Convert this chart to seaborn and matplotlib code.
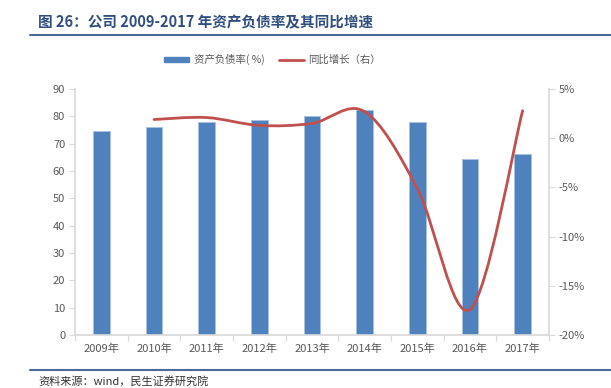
import numpy as np
import pandas as pd
import matplotlib
matplotlib.use('Agg')
import matplotlib.pyplot as plt
import seaborn as sns
from matplotlib.path import Path
from matplotlib.patches import PathPatch, Patch
from matplotlib.lines import Line2D
from matplotlib.ticker import FuncFormatter, FixedLocator

# 数据
years = ['2009年', '2010年', '2011年', '2012年', '2013年', '2014年', '2015年', '2016年', '2017年']
debt_ratio = [74.8, 76.2, 77.8, 78.8, 80.0, 82.2, 78.0, 64.3, 66.1]
growth_years = ['2010年', '2011年', '2012年', '2013年', '2014年', '2015年', '2016年', '2017年']
growth = [1.9, 2.1, 1.3, 1.5, 2.7, -5.1, -17.4, 2.8]

sns.set_theme(style='white')
plt.rcParams['font.family'] = ['Noto Sans CJK SC', 'DejaVu Sans']
plt.rcParams['axes.unicode_minus'] = False

bar_color = '#4F81BD'
line_color = '#C0504D'
text_gray = '#595959'
axis_gray = '#D9D9D9'
title_blue = '#2F4D7E'

fig = plt.figure(figsize=(6.11, 3.88), dpi=100)
ax = fig.add_axes([0.1227, 0.1366, 0.7758, 0.634])

df = pd.DataFrame({'year': years, 'ratio': debt_ratio})
sns.barplot(data=df, x='year', y='ratio', color=bar_color, width=0.32,
            edgecolor='#A9C1E3', linewidth=0.7, saturation=1, ax=ax)
ax.set_xlim(-0.5, len(years) - 0.5)
ax.set_ylim(0, 90)
ax.set_yticks(range(0, 91, 10))
ax.set_xlabel('')
ax.set_ylabel('')

ax2 = ax.twinx()
ax2.set_ylim(-20, 5)
ax2.set_yticks(range(-20, 6, 5))
ax2.yaxis.set_major_formatter(FuncFormatter(lambda v, p: f'{v:.0f}%'))

# 平滑折线（Catmull-Rom → 三次贝塞尔）
gx = np.array([years.index(y) for y in growth_years], dtype=float)
gy = np.array(growth, dtype=float)
pts = np.column_stack([gx, gy])
verts = [tuple(pts[0])]
codes = [Path.MOVETO]
n = len(pts)
for i in range(n - 1):
    p0 = pts[i - 1] if i > 0 else pts[i]
    p1 = pts[i]
    p2 = pts[i + 1]
    p3 = pts[i + 2] if i + 2 < n else pts[i + 1]
    c1 = p1 + (p2 - p0) / 6
    c2 = p2 - (p3 - p1) / 6
    verts += [tuple(c1), tuple(c2), tuple(p2)]
    codes += [Path.CURVE4] * 3
ax2.add_patch(PathPatch(Path(verts, codes), facecolor='none',
                        edgecolor=line_color, linewidth=2.0, capstyle='round'))

# 坐标轴样式
for a in (ax, ax2):
    for s in a.spines.values():
        s.set_visible(False)
ax.spines['left'].set_visible(True)
ax.spines['left'].set_color(axis_gray)
ax.spines['bottom'].set_visible(True)
ax.spines['bottom'].set_color(axis_gray)
ax2.spines['right'].set_visible(True)
ax2.spines['right'].set_color(axis_gray)

ax.tick_params(axis='y', colors=axis_gray, labelcolor=text_gray, labelsize=8,
               length=4, width=0.8, direction='out', left=True, pad=3)
ax2.tick_params(axis='y', colors=axis_gray, labelcolor=text_gray, labelsize=8,
                length=4, width=0.8, direction='out', right=True, pad=3)
ax.tick_params(axis='x', which='major', length=0, labelcolor=text_gray, labelsize=8, pad=6)
ax.xaxis.set_minor_locator(FixedLocator(np.arange(-0.5, len(years), 1.0)))
ax.tick_params(axis='x', which='minor', length=4, width=0.8, color=axis_gray,
               direction='out', bottom=True)
ax.grid(False)
ax2.grid(False)

# 图例
handles = [Patch(facecolor=bar_color, edgecolor=bar_color),
           Line2D([0], [0], color=line_color, linewidth=2)]
fig.legend(handles, ['资产负债率( %)', '同比增长（右）'], loc='center',
           bbox_to_anchor=(0.446, 0.846), ncol=2, frameon=False, fontsize=7.5,
           labelcolor=text_gray, handlelength=2.4, handleheight=0.5,
           columnspacing=1.4, handletextpad=0.4)

# 标题与装饰线
fig.text(38 / 611, 1 - 22 / 388, '图 26：公司 2009-2017 年资产负债率及其同比增速',
         fontsize=10.5, fontweight='bold', color=title_blue, va='center', ha='left')
fig.add_artist(Line2D([30 / 611, 1], [1 - 35 / 388] * 2, color='#4A6A9C', linewidth=1.5))
fig.add_artist(Line2D([30 / 611, 1], [1 - 370 / 388] * 2, color='#4A6A9C', linewidth=1.5))
fig.text(38 / 611, 1 - 387 / 388, '资料来源：wind，民生证券研究院', fontsize=8,
         color='#333333', va='bottom', ha='left')

fig.savefig('out.png', dpi=100)
